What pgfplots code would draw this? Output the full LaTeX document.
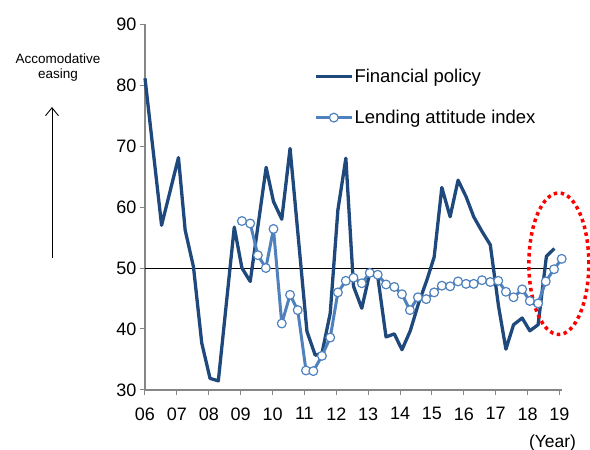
\documentclass[border=0pt]{standalone}
\usepackage{fontspec}
\setmainfont{Liberation Sans}
\usepackage{pgfplots}
\pgfplotsset{compat=1.18}
\usetikzlibrary{arrows.meta}
\definecolor{fpblue}{RGB}{31,73,125}
\definecolor{lablue}{RGB}{79,129,189}
\definecolor{axgray}{RGB}{134,134,134}
\begin{document}
\begin{tikzpicture}
\useasboundingbox (0,0) rectangle (590pt,450pt);
\begin{axis}[
  at={(145pt,60pt)}, anchor=south west,
  scale only axis, width=416.7pt, height=366pt,
  xmin=6, xmax=19.07, ymin=30, ymax=90,
  clip=false,
  axis lines*=left,
  axis line style={axgray, line width=1.3pt},
  tick style={axgray, line width=1pt},
  tick align=outside,
  major tick length=5pt,
  xtick={6,7,8,9,10,11,12,13,14,15,16,17,18,19},
  xticklabels={06,07,08,09,10,11,12,13,14,15,16,17,18,19},
  ytick={30,40,50,60,70,80,90},
  /pgf/number format/assume math mode=true,
  ticklabel style={font=\fontsize{18}{21}\selectfont},
  xticklabel style={yshift=-9pt},
  legend style={draw=none, fill=none, at={(axis description cs:0.4056,0.881)}, anchor=north west,
    font=\fontsize{18.5}{21}\selectfont, row sep=24.5pt, inner sep=0pt, nodes={inner sep=1pt}},
  legend cell align=left,
  legend image code/.code={\draw[#1, mark repeat=2, mark phase=2] plot coordinates {(0pt,0pt) (18pt,0pt) (36pt,0pt)};},
]
\addplot[black, line width=0.8pt, forget plot] coordinates {(6,50) (18.8,50)};
\addplot[fpblue, line width=3.3pt, line join=round, no marks] coordinates {
(6.00,81.1) (6.52,57.0) (7.05,68.1) (7.26,56.2) (7.52,50.2) (7.78,37.7)
(8.04,31.9) (8.30,31.5) (8.80,56.7) (9.04,50.0) (9.30,47.8) (9.80,66.5)
(10.03,60.9) (10.29,58.0) (10.55,69.6) (11.08,39.6) (11.34,35.7) (11.55,36.0)
(11.81,42.6) (12.05,59.5) (12.30,68.0) (12.54,47.0) (12.80,43.4) (13.05,49.2)
(13.30,48.6) (13.56,38.7) (13.82,39.2) (14.06,36.6) (14.32,39.7) (14.58,44.2)
(14.84,48.0) (15.07,51.8) (15.31,63.2) (15.57,58.4) (15.82,64.4) (16.07,61.7)
(16.31,58.4) (16.57,56.0) (16.83,53.8) (17.09,43.7) (17.32,36.7) (17.56,40.7)
(17.83,41.8) (18.07,39.7) (18.33,40.7) (18.59,51.9) (18.84,53.2)};
\addlegendentry{Financial policy}
\addplot[lablue, line width=3pt, line join=round, mark=*, mark size=4.4pt,
  mark options={fill=white, draw=lablue, line width=1.2pt, solid}] coordinates {
(9.04,57.7) (9.30,57.3) (9.54,52.1) (9.79,50.0) (10.03,56.4) (10.29,40.9)
(10.55,45.6) (10.79,43.1) (11.05,33.2) (11.28,33.1) (11.55,35.6) (11.81,38.6)
(12.05,46.0) (12.30,47.9) (12.54,48.4) (12.80,47.5) (13.05,49.2) (13.30,48.9)
(13.56,47.3) (13.82,46.9) (14.06,45.7) (14.31,43.1) (14.56,45.2) (14.82,44.9)
(15.07,46.0) (15.31,47.1) (15.57,47.0) (15.82,47.8) (16.07,47.4) (16.31,47.4)
(16.57,48.0) (16.83,47.7) (17.08,47.9) (17.32,46.1) (17.56,45.2) (17.83,46.5)
(18.07,44.6) (18.33,44.2) (18.57,47.8) (18.83,49.8) (19.07,51.5)};
\addlegendentry{Lending attitude index}
\draw[red, line width=3.5pt, dash pattern=on 3.5pt off 3.5pt] (axis cs:18.98,50.7) ellipse [x radius=0.94, y radius=11.6];
\node[font=\fontsize{17.5}{20}\selectfont] at (axis description cs:0.978,-0.145) {(Year)};
\node[font=\fontsize{13.5}{15}\selectfont, align=center] at (axis description cs:-0.209,0.881) {Accomodative\\easing};
\draw[-{Straight Barb[length=8pt,width=13pt]}, line width=0.9pt] (axis description cs:-0.2232,0.3607) -- (axis description cs:-0.2232,0.7732);
\end{axis}
\end{tikzpicture}
\end{document}
